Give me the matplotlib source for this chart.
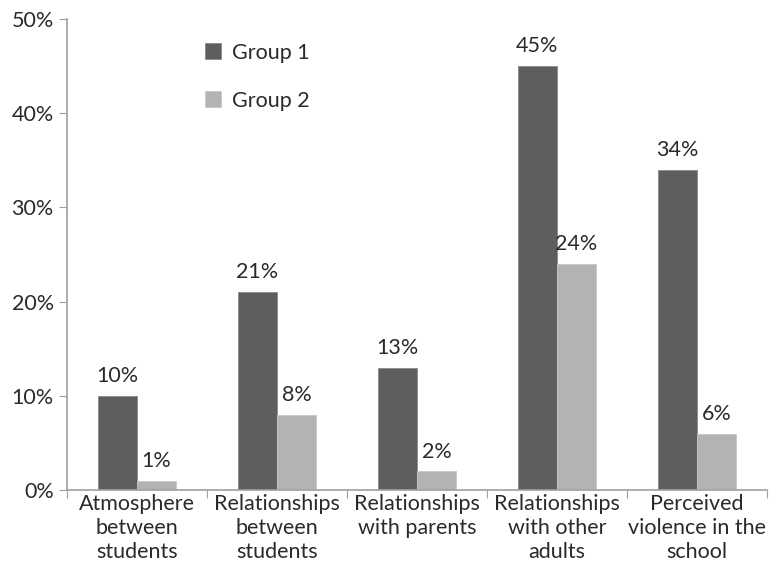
import numpy as np
import matplotlib.pyplot as plt
from matplotlib.ticker import FuncFormatter

# valeurs
categories = ["Atmosphere\nbetween\nstudents", "Relationships\nbetween\nstudents",
              "Relationships\nwith parents", "Relationships\nwith other\nadults",
              "Perceived\nviolence in the\nschool"]
group1 = [10, 21, 13, 45, 34]
group2 = [1, 8, 2, 24, 6]
series_names = ["Group 1", "Group 2"]

plt.rcParams['font.family'] = ['Lato', 'DejaVu Sans']
plt.rcParams['font.size'] = 15.5

fig = plt.figure(figsize=(7.69, 5.87), dpi=100)
ax = fig.add_axes([0.087, 0.165, 0.91, 0.803])

x = np.arange(len(categories))
w = 0.28
dark = '#5e5e5e'
light = '#b3b3b3'
b1 = ax.bar(x - w / 2, group1, w, color=dark, edgecolor='#8a8a8a', linewidth=0.6, label=series_names[0])
b2 = ax.bar(x + w / 2, group2, w, color=light, edgecolor='#c8c8c8', linewidth=0.6, label=series_names[1])

txt = '#2a2a2a'
for bars, vals in ((b1, group1), (b2, group2)):
    for b, v in zip(bars, vals):
        ax.annotate(f"{v}%", (b.get_x() + b.get_width() / 2, v), xytext=(0, 7),
                    textcoords='offset points', ha='center', va='bottom',
                    fontsize=15.5, color=txt)

ax.set_xlim(-0.5, len(categories) - 0.5)
ax.set_ylim(0, 50)
ax.set_yticks(range(0, 51, 10))
ax.yaxis.set_major_formatter(FuncFormatter(lambda v, p: f"{int(v)}%"))

# ticks de l'axe x aux frontieres des categories
ax.set_xticks(np.arange(-0.5, len(categories), 1.0))
ax.set_xticklabels([])
ax.set_xticks(x, minor=True)
ax.set_xticklabels(categories, minor=True, fontsize=15.5, color=txt, linespacing=1.25)
ax.tick_params(axis='x', which='minor', length=0, pad=3)
ax.tick_params(axis='x', which='major', length=6, color='#a0a0a0', direction='out')
ax.tick_params(axis='y', length=6, color='#a0a0a0', direction='out', labelcolor=txt, labelsize=15.5)

for s in ('top', 'right'):
    ax.spines[s].set_visible(False)
for s in ('left', 'bottom'):
    ax.spines[s].set_color('#a0a0a0')
    ax.spines[s].set_linewidth(1.2)

leg = ax.legend(loc='upper left', bbox_to_anchor=(0.17, 0.99), frameon=False,
                handlelength=0.75, handleheight=0.75, handletextpad=0.5,
                labelspacing=1.3, fontsize=15.5)
for t in leg.get_texts():
    t.set_color(txt)

fig.savefig('out.png', dpi=100)
